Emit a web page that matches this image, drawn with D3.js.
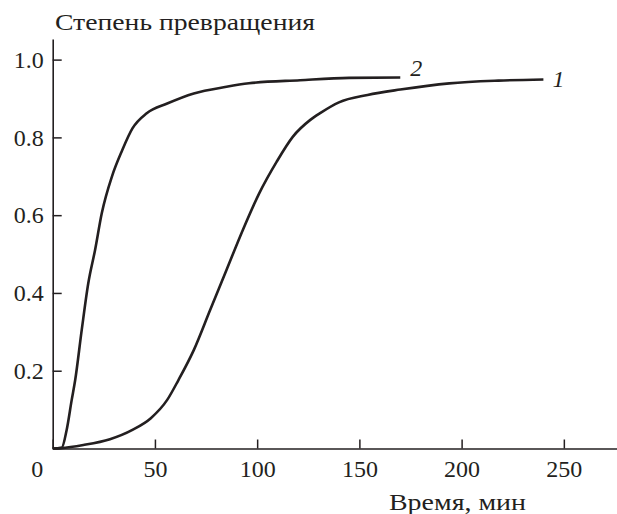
<!DOCTYPE html>
<html>
<head>
<meta charset="utf-8">
<script src="https://cdn.jsdelivr.net/npm/d3@7"></script>
<style>
  body { margin: 0; background: #fff; }
  text { font-family: "Liberation Serif", "Times New Roman", serif; fill: #231f20; }
</style>
</head>
<body>
<script>
// curve 1
var time1 = [0, 4, 15, 28, 39, 48, 56, 61.5, 69, 77, 85, 93, 101, 109.5, 117.5, 126, 131, 140, 154, 170, 194, 218, 240];
var conv1 = [0, 0.001, 0.009, 0.024, 0.048, 0.078, 0.125, 0.176, 0.253, 0.356, 0.459, 0.562, 0.656, 0.737, 0.802, 0.845, 0.863, 0.89, 0.909, 0.923, 0.939, 0.946, 0.949];
// curve 2
var time2 = [0, 4.4, 6.8, 9.3, 11, 14.2, 17.4, 20.7, 24, 29, 34, 39, 46, 56, 69, 85, 96, 121, 145, 170];
var conv2 = [0, 0.002, 0.047, 0.125, 0.176, 0.305, 0.425, 0.51, 0.605, 0.70, 0.767, 0.823, 0.862, 0.887, 0.913, 0.930, 0.939, 0.947, 0.953, 0.954];
var xTicks = [0, 50, 100, 150, 200, 250];
var yTicks = [0.2, 0.4, 0.6, 0.8, 1.0];
var yTitle = "Степень превращения";
var xTitle = "Время, мин";
var curveLabels = ["1", "2"];

var W = 617, H = 514;
var mLeft = 52.7, mRight = 617, mTop = 39, mBottom = 448.5;

var svg = d3.select("body").append("svg")
  .attr("width", W).attr("height", H);

var x = d3.scaleLinear().domain([0, 276]).range([mLeft, mRight]);
var y = d3.scaleLinear().domain([0, 1.053]).range([mBottom, mTop]);

// x axis, ticks point inward
var xa = svg.append("g")
  .attr("transform", "translate(0," + mBottom + ")")
  .call(d3.axisBottom(x).tickValues(xTicks).tickSizeInner(-9).tickSizeOuter(0).tickPadding(11)
    .tickFormat(d3.format("d")));
xa.selectAll("text").style("font-size", "24px");
xa.selectAll(".tick").filter(function(d) { return d === 0; })
  .select("text").attr("x", -16);
xa.select(".domain").attr("stroke", "#231f20").attr("stroke-width", 1.6);
xa.selectAll(".tick line").attr("stroke", "#231f20").attr("stroke-width", 1.5);

// y axis
var ya = svg.append("g")
  .attr("transform", "translate(" + mLeft + ",0)")
  .call(d3.axisLeft(y).tickValues(yTicks).tickSizeInner(-9).tickSizeOuter(0).tickPadding(9)
    .tickFormat(d3.format(".1f")));
ya.selectAll("text").style("font-size", "24px");
ya.select(".domain").attr("stroke", "#231f20").attr("stroke-width", 1.6);
ya.selectAll(".tick line").attr("stroke", "#231f20").attr("stroke-width", 1.5);

// titles
svg.append("text").attr("x", 55).attr("y", 30)
  .attr("textLength", 260).attr("lengthAdjust", "spacingAndGlyphs")
  .style("font-size", "24px").text(yTitle);
svg.append("text").attr("x", 389).attr("y", 510)
  .attr("textLength", 137).attr("lengthAdjust", "spacingAndGlyphs")
  .style("font-size", "24px").text(xTitle);

// curves
var line = d3.line()
  .x(function(d) { return x(d[0]); })
  .y(function(d) { return y(d[1]); })
  .curve(d3.curveMonotoneX);

var series = [d3.zip(time1, conv1), d3.zip(time2, conv2)];
svg.selectAll("path.curve")
  .data(series)
  .enter().append("path")
  .attr("class", "curve")
  .attr("d", line)
  .attr("fill", "none")
  .attr("stroke", "#231f20")
  .attr("stroke-width", 2.6)
  .attr("stroke-linejoin", "round");

// curve labels next to the line ends
series.forEach(function(s, i) {
  var last = s[s.length - 1];
  svg.append("text")
    .attr("x", x(last[0]) + (i === 0 ? 9 : 10))
    .attr("y", y(last[1]) + (i === 0 ? 8 : -2))
    .style("font-size", "24px").style("font-style", "italic")
    .text(curveLabels[i]);
});
</script>
</body>
</html>
